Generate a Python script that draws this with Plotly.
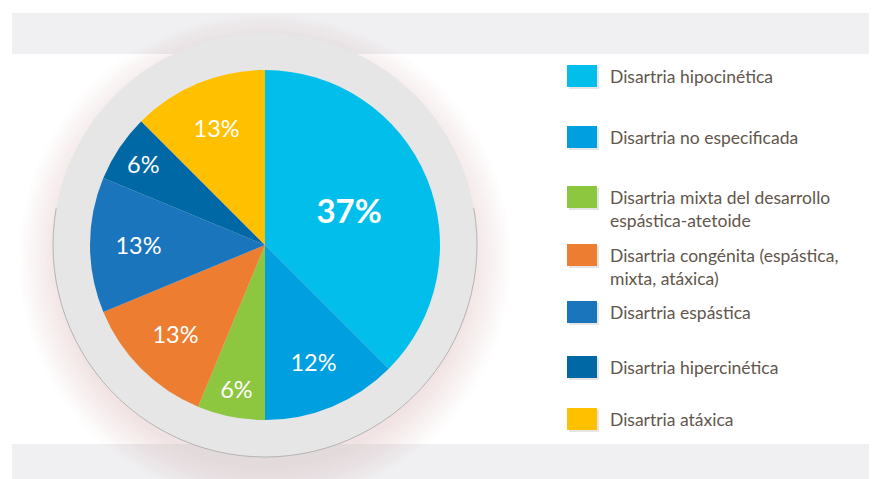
import math
import plotly.graph_objects as go

W, H = 877, 479
OFF = 8  # page body margin compensation

categories = [
    "Disartria hipocinética",
    "Disartria no especificada",
    "Disartria mixta del desarrollo<br>espástica-atetoide",
    "Disartria congénita (espástica,<br>mixta, atáxica)",
    "Disartria espástica",
    "Disartria hipercinética",
    "Disartria atáxica",
]
values = [37.5, 12.5, 6.25, 12.5, 12.5, 6.25, 12.5]
pct_labels = ["37%", "12%", "6%", "13%", "13%", "6%", "13%"]
colors = ["#01BFEA", "#009FE0", "#8DC63F", "#ED7D31", "#1B75BC", "#0069A5", "#FFC000"]


def px(x):
    return (x - OFF) / W


def py(y):
    return 1 - (y - OFF) / H


fig = go.Figure()

fig.add_trace(go.Pie(
    values=values,
    labels=[c.replace("<br>", " ") for c in categories],
    text=pct_labels,
    textinfo="text",
    textposition="inside",
    insidetextorientation="horizontal",
    sort=False,
    direction="clockwise",
    rotation=0,
    marker=dict(colors=colors, line=dict(width=0)),
    textfont=dict(family="Lato", color="white",
                  size=[33, 23.5, 23.5, 23.5, 23.5, 23.5, 23.5],
                  weight=["bold", "normal", "normal", "normal", "normal", "normal", "normal"]),
    domain=dict(x=[px(90), px(440)], y=[py(420), py(70)]),
    showlegend=False,
    hoverinfo="label+percent",
))

shapes = []
# grey bands
shapes.append(dict(type="rect", xref="paper", yref="paper", x0=px(12), x1=1.05,
                   y0=py(54), y1=py(13), fillcolor="#F0F0F2", line=dict(width=0), layer="below"))
shapes.append(dict(type="rect", xref="paper", yref="paper", x0=px(12), x1=1.05,
                   y0=-0.05, y1=py(444), fillcolor="#F0F0F2", line=dict(width=0), layer="below"))
# soft glow behind ring (peach, offset downward)
cx, cy = 265, 245
for k in range(14, 0, -1):
    r = 204 + k * 3
    shapes.append(dict(type="circle", xref="paper", yref="paper",
                       x0=px(cx - r), x1=px(cx + r), y0=py(cy + r + 14), y1=py(cy - r + 14),
                       fillcolor="rgba(236,200,178,0.03)", line=dict(width=0), layer="below"))
# grey ring
R = 212
shapes.append(dict(type="circle", xref="paper", yref="paper",
                   x0=px(cx - R), x1=px(cx + R), y0=py(cy + R), y1=py(cy - R),
                   fillcolor="#E6E6E6", line=dict(width=0), layer="below"))
# darker edge on lower half of ring
pts = []
for i in range(0, 61):
    a = math.radians(-10 + i * 200 / 60)
    x = cx + R * math.cos(a)
    y = cy + R * math.sin(a)
    pts.append(f"{px(x):.5f},{py(y):.5f}")
shapes.append(dict(type="path", xref="paper", yref="paper",
                   path="M" + " L".join(pts),
                   line=dict(width=1, color="#B4B4B4"), layer="below"))

# legend (drawn manually)
sq_centers = [76, 137, 197, 255, 312, 367, 419]
annotations = []
for cat, col, yc in zip(categories, colors, sq_centers):
    shapes.append(dict(type="rect", xref="paper", yref="paper",
                       x0=px(569), x1=px(599), y0=py(yc + 13), y1=py(yc - 9),
                       fillcolor="rgba(0,0,0,0.10)", line=dict(width=0)))
    shapes.append(dict(type="rect", xref="paper", yref="paper",
                       x0=px(567), x1=px(597), y0=py(yc + 11), y1=py(yc - 11),
                       fillcolor=col, line=dict(width=0)))
    annotations.append(dict(xref="paper", yref="paper", x=px(608), y=py(yc - 12),
                            xanchor="left", yanchor="top", align="left",
                            text=cat, showarrow=False,
                            font=dict(family="Lato", size=17.5, color="#62564C")))

fig.update_layout(
    width=W, height=H,
    margin=dict(l=0, r=0, t=0, b=0),
    paper_bgcolor="white",
    plot_bgcolor="white",
    shapes=shapes,
    annotations=annotations,
    showlegend=False,
)

fig.write_html("out.html")
